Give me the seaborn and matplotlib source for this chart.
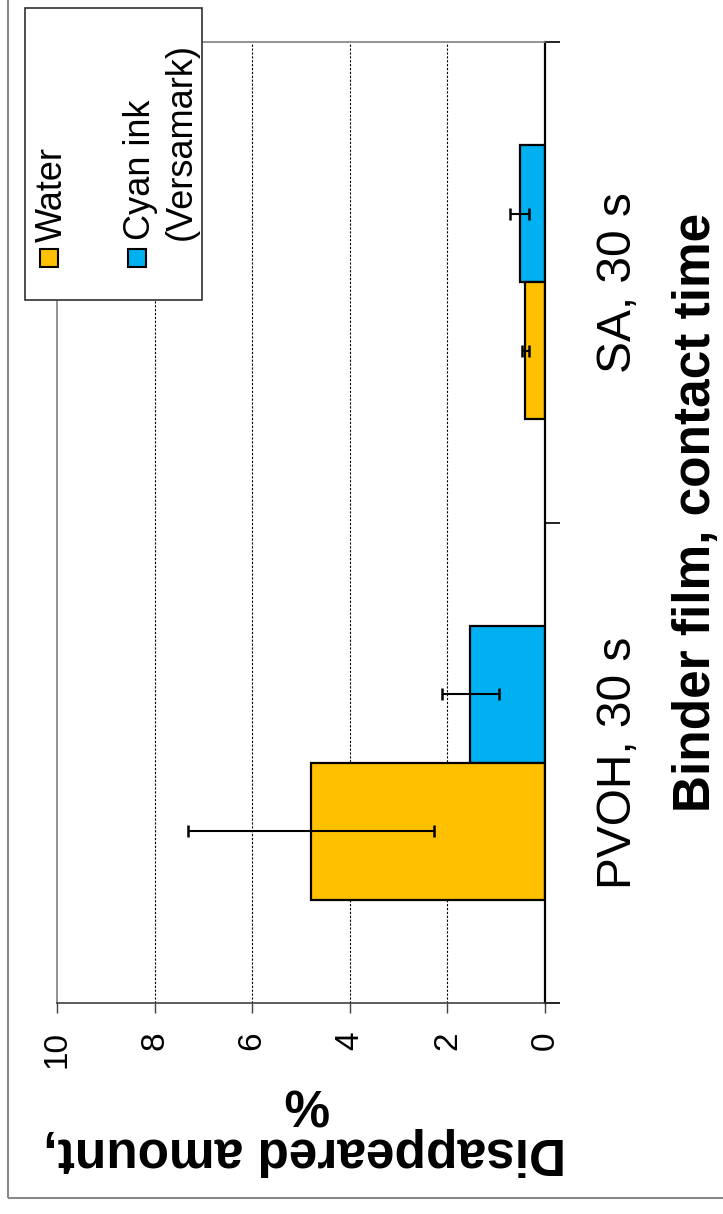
import numpy as np
import pandas as pd
import matplotlib
matplotlib.use("Agg")
import matplotlib.pyplot as plt
from matplotlib.patches import Rectangle
import seaborn as sns

# Binder films and test liquids
films = ["PVOH, 30 s", "SA, 30 s"]
liquids = ["Water", "Cyan ink\n(Versamark)"]

# Disappeared amount (%) with standard deviations
water_mean = [4.79, 0.40]
water_err = [2.52, 0.08]
cyan_mean = [1.53, 0.52]
cyan_err = [0.59, 0.20]

value_ticks = [0, 2, 4, 6, 8, 10]
colors = {"Water": "#FFC000", "Cyan ink\n(Versamark)": "#00B0F0"}

df = pd.DataFrame({
    "film": films * 2,
    "liquid": [liquids[0]] * 2 + [liquids[1]] * 2,
    "value": water_mean + cyan_mean,
    "err": water_err + cyan_err,
})

sns.set_theme(style="white")
plt.rcParams["font.family"] = ["Liberation Sans", "DejaVu Sans"]

W, H = 723, 1214
fig = plt.figure(figsize=(W / 100, H / 100), dpi=100)
ax = fig.add_axes([57 / W, 1 - 1003 / H, 488 / W, 961 / H])

sns.barplot(data=df, y="film", x="value", hue="liquid", orient="h",
            order=films[::-1], hue_order=liquids[::-1], palette=colors,
            width=0.57, errorbar=None, edgecolor="black", linewidth=1.6,
            saturation=1, legend=False, ax=ax)

# error bars centred on each bar
for p in ax.patches:
    val = p.get_width()
    yc = p.get_y() + p.get_height() / 2
    row = df.iloc[(df["value"] - val).abs().argmin()]
    ax.errorbar(val, yc, xerr=row["err"], fmt="none", ecolor="black",
                elinewidth=1.5, capsize=4.3, capthick=1.8, zorder=5)

ax.set_xlim(10, 0)
ax.set_ylim(1.5, -0.5)

# value axis (bottom)
ax.set_xticks(value_ticks)
ax.set_xticklabels([str(v) for v in value_ticks], rotation=90)
ax.tick_params(axis="x", which="major", direction="out", length=7.2, width=1,
               color="#404040", pad=13, labelsize=24, bottom=True,
               labelcolor="black")

# category axis (right)
ax.yaxis.tick_right()
ax.set_yticks([-0.5, 0.5, 1.5])
ax.set_yticklabels([])
ax.set_yticks([0, 1], minor=True)
ax.set_yticklabels(films[::-1], minor=True, rotation=90, va="center")
ax.tick_params(axis="y", which="major", direction="out", length=11, width=1.2,
               color="black", right=True, left=False)
ax.tick_params(axis="y", which="minor", length=0, pad=37, labelsize=34.5,
               right=True, left=False, labelright=True, labelleft=False,
               labelcolor="black")

ax.xaxis.grid(True, which="major", color="black", linestyle=(0, (2, 1.5)),
              linewidth=0.8)
ax.yaxis.grid(False)
ax.set_axisbelow(True)
for gl, v in zip(ax.get_xgridlines(), value_ticks):
    if v in (0, 10):
        gl.set_visible(False)

for s in ["top", "left"]:
    ax.spines[s].set_color("#808080")
    ax.spines[s].set_linewidth(1.2)
ax.spines["bottom"].set_color("#404040")
ax.spines["bottom"].set_linewidth(1.2)
ax.spines["right"].set_color("black")
ax.spines["right"].set_linewidth(1.6)

ax.set_ylabel("Binder film, contact time", fontsize=37, fontweight="bold",
              rotation=90, color="black")
ax.yaxis.set_label_position("right")
ax.yaxis.label.set(ha="center", va="center")
ax.yaxis.set_label_coords((696 - 57) / 488, (1003 - 512) / 961)

ax.set_xlabel("Disappeared amount,\n%", fontsize=37, fontweight="bold",
              rotation=180, linespacing=1.0, color="black")
ax.xaxis.label.set(ha="center", va="center")
ax.xaxis.set_label_coords((305 - 57) / 488, (1003 - 1127) / 961)

# outer chart border
fig.add_artist(Rectangle((8 / W, 16 / H), 2, 2, transform=fig.transFigure,
                         fill=False, edgecolor="#888888", lw=1.5))

# legend box
lx0, ly0, lx1, ly1 = 25, 8, 202, 300
fig.add_artist(Rectangle((lx0 / W, 1 - ly1 / H), (lx1 - lx0) / W, (ly1 - ly0) / H,
                         transform=fig.transFigure, facecolor="white",
                         edgecolor="#303030", lw=1.2, zorder=10))
for lab, cx in zip(liquids, [49, 137]):
    fig.add_artist(Rectangle(((cx - 9) / W, 1 - (258 + 9) / H), 18 / W, 18 / H,
                             transform=fig.transFigure, facecolor=colors[lab],
                             edgecolor="black", lw=1.5, zorder=11))
fig.text(52 / W, 1 - 242 / H, liquids[0], rotation=90, ha="center", va="bottom",
         fontsize=26, color="black", zorder=12)
fig.text(161 / W, 1 - 240 / H, liquids[1], rotation=90, ha="center", va="bottom",
         fontsize=26, color="black", multialignment="left", linespacing=1.2,
         zorder=12)

fig.savefig("out.png", dpi=100, facecolor="white")
